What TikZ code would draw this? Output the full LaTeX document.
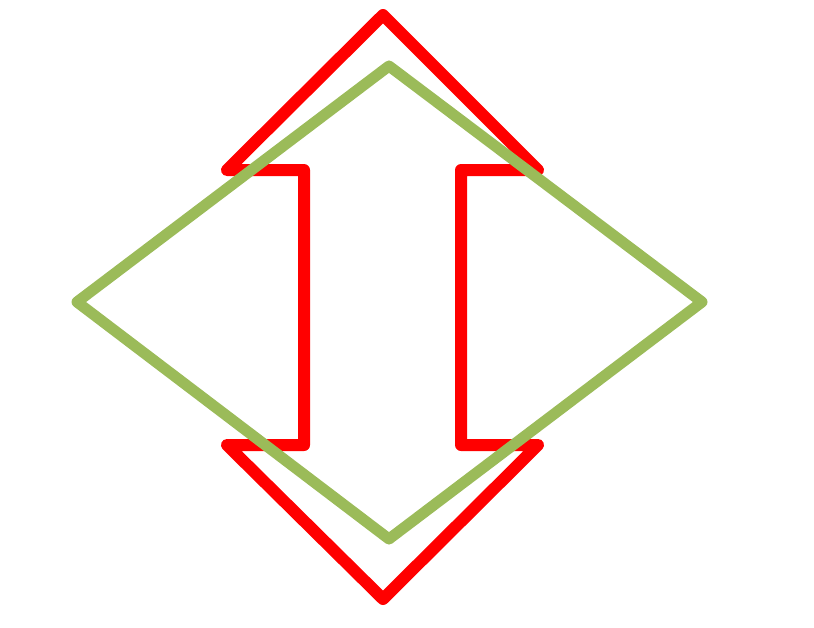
\documentclass[tikz,border=0pt]{standalone}
\begin{document}
\begin{tikzpicture}[x=1pt,y=-1pt,
  redarrow/.style={draw={rgb,255:red,255;green,0;blue,0},line width=12pt,line join=round,line cap=round},
  greendiamond/.style={draw={rgb,255:red,155;green,187;blue,89},line width=11pt,line join=round,line cap=round}]
\useasboundingbox (0,0) rectangle (814,627);
\draw[redarrow] (227,170) -- (383,15) -- (538,170) -- (461,170) -- (461,445) -- (538,445) -- (383,599) -- (227,445) -- (304,445) -- (304,170) -- cycle;
\draw[greendiamond] (77,302) -- (389,66) -- (702,302) -- (389,539) -- cycle;
\end{tikzpicture}
\end{document}
